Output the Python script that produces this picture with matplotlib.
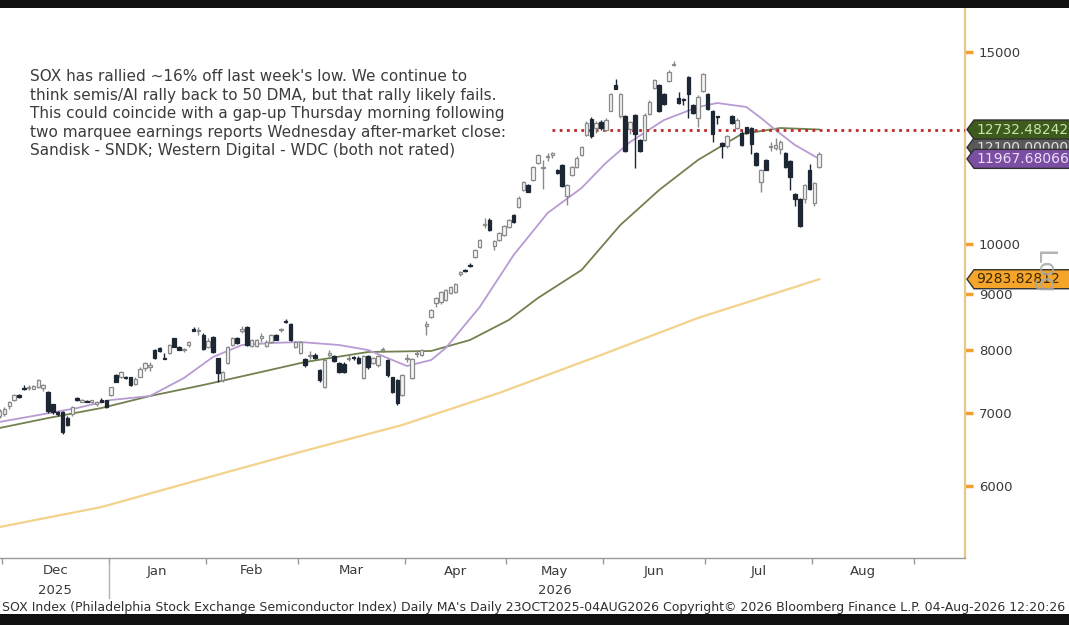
import numpy as np
import matplotlib
matplotlib.use("Agg")
import matplotlib.pyplot as plt
from matplotlib.patches import Polygon, Rectangle
from matplotlib.ticker import FixedLocator, NullLocator, FuncFormatter

W, H = 1069, 625

# trading-day index of each candle (0 = 1 Dec 2025, -1 = 28 Nov 2025)
first_day = -1

opens = [
    6950, 6980, 7110, 7200, 7270, 7370, 7380, 7370, 7390, 7380,
    7320, 7130, 7010, 7010, 6930, 6980, 7230, 7170, 7180, 7170,
    7140, 7200, 7190, 7270, 7580, 7560, 7550, 7550, 7440, 7560,
    7700, 7720, 8000, 8030, 7860, 7950, 8200, 8040, 7990, 8080,
    8350, 8320, 8250, 8050, 8220, 7860, 7500, 7780, 8080, 8200,
    8330, 8390, 8060, 8070, 8200, 8060, 8130, 8250, 8340, 8500,
    8440, 8050, 7950, 7850, 7900, 7920, 7670, 7400, 7920, 7900,
    7780, 7770, 7850, 7860, 7870, 7540, 7900, 7780, 7740, 8000,
    7830, 7550, 7500, 7270, 7850, 7540, 7930, 7910, 8420, 8570,
    8830, 8840, 8890, 9020, 9040, 9380, 9470, 9560, 9730, 9940,
    10400, 10520, 9950, 10080, 10200, 10370, 10630, 10810, 11210, 11330,
    11450, 11860, 11730, 12020, 12060, 11690, 11810, 11060, 11570, 11760,
    12070, 12580, 13020, 12770, 12930, 12720, 13250, 14000, 13100, 13100,
    12750, 13130, 12450, 12450, 13160, 13900, 14000, 13710, 14100, 14580,
    13600, 13550, 14230, 13400, 13050, 13800, 13720, 13250, 13100, 12380,
    12300, 13100, 12780, 12650, 12790, 12770, 12110, 11400, 11940, 12260,
    12250, 12220, 12120, 11910, 11110, 11000, 11000, 11690, 10910, 11760,
]
highs = [
    7060, 7090, 7180, 7290, 7280, 7420, 7420, 7430, 7520, 7450,
    7330, 7140, 7030, 7030, 6950, 7110, 7240, 7210, 7200, 7200,
    7185, 7220, 7200, 7400, 7600, 7650, 7570, 7560, 7560, 7710,
    7800, 7800, 8020, 8050, 7950, 8100, 8210, 8060, 8030, 8150,
    8400, 8400, 8280, 8200, 8240, 7870, 7650, 8070, 8220, 8220,
    8420, 8420, 8180, 8190, 8280, 8160, 8270, 8270, 8380, 8530,
    8470, 8150, 8150, 7860, 7980, 7940, 7690, 7850, 7990, 7920,
    7800, 7790, 7920, 7900, 7890, 7920, 7920, 7880, 7920, 8040,
    7850, 7560, 7520, 7600, 7930, 7870, 8000, 8020, 8500, 8720,
    8950, 9050, 9100, 9160, 9220, 9440, 9490, 9600, 9900, 10100,
    10560, 10560, 10080, 10250, 10400, 10540, 10650, 11060, 11430, 11350,
    11790, 12090, 11950, 12120, 12140, 11710, 11830, 11350, 11790, 12030,
    12300, 12950, 13060, 12960, 13000, 13050, 13760, 14150, 13750, 13130,
    12970, 13160, 12480, 13170, 13550, 14160, 14030, 13740, 14430, 14700,
    13780, 13600, 14260, 13430, 13700, 14340, 13750, 13280, 13110, 12400,
    12590, 13130, 13050, 12680, 12810, 12800, 12140, 11710, 11960, 12400,
    12500, 12450, 12150, 11940, 11140, 11030, 11350, 11850, 11400, 12150,
]
lows = [
    6930, 6960, 7060, 7180, 7230, 7350, 7350, 7360, 7380, 7330,
    7000, 6990, 6950, 6700, 6810, 6960, 7180, 7160, 7160, 7150,
    7110, 7160, 7080, 7250, 7470, 7540, 7520, 7410, 7420, 7550,
    7650, 7650, 7850, 7970, 7840, 7930, 8040, 7990, 7960, 8040,
    8320, 8250, 8000, 8030, 7950, 7470, 7470, 7760, 8060, 8090,
    8280, 8060, 8040, 8050, 8130, 8040, 8110, 8160, 8300, 8460,
    8150, 8030, 7930, 7720, 7850, 7850, 7480, 7380, 7880, 7800,
    7610, 7620, 7820, 7830, 7760, 7520, 7690, 7760, 7720, 7970,
    7560, 7300, 7120, 7250, 7800, 7520, 7880, 7890, 8250, 8550,
    8760, 8820, 8870, 9000, 9020, 9340, 9420, 9520, 9710, 9920,
    10350, 10280, 9880, 10060, 10180, 10350, 10460, 10790, 11190, 11150,
    11430, 11840, 11230, 11920, 11980, 11600, 11280, 10850, 11550, 11740,
    12050, 12550, 12500, 12650, 12720, 12690, 13230, 13860, 13050, 12150,
    12600, 11750, 12150, 12430, 13140, 13880, 13220, 13420, 14080, 14550,
    13440, 13420, 13050, 13150, 12810, 13780, 13270, 12400, 12890, 11990,
    12250, 12880, 12750, 12300, 12620, 12080, 11780, 11160, 11680, 12180,
    12200, 12100, 11730, 11210, 10830, 10360, 10900, 11200, 10830, 11730,
]
closes = [
    7030, 7060, 7160, 7270, 7240, 7360, 7390, 7410, 7500, 7430,
    7030, 7010, 6980, 6730, 6830, 7090, 7190, 7200, 7170, 7190,
    7170, 7170, 7090, 7390, 7480, 7630, 7540, 7430, 7520, 7690,
    7780, 7730, 7860, 7980, 7850, 8080, 8050, 8000, 7995, 8130,
    8330, 8330, 8020, 8150, 7970, 7610, 7630, 8050, 8200, 8110,
    8340, 8080, 8160, 8170, 8230, 8140, 8250, 8170, 8345, 8480,
    8170, 8130, 8130, 7740, 7910, 7870, 7500, 7830, 7940, 7820,
    7630, 7640, 7870, 7855, 7780, 7900, 7710, 7860, 7900, 8005,
    7580, 7320, 7150, 7580, 7860, 7850, 7940, 8000, 8430, 8700,
    8930, 9030, 9075, 9140, 9200, 9420, 9450, 9540, 9870, 10080,
    10420, 10300, 10060, 10230, 10380, 10520, 10480, 11020, 11400, 11170,
    11760, 12060, 11750, 12040, 12120, 11620, 11300, 11330, 11760, 12000,
    12260, 12910, 12560, 12920, 12770, 12990, 13720, 13880, 13720, 12180,
    12930, 12620, 12180, 13140, 13500, 14120, 13250, 13440, 14390, 14600,
    13470, 13540, 13710, 13170, 13650, 14300, 13300, 12600, 13080, 12300,
    12560, 12900, 13000, 12330, 12640, 12360, 11810, 11680, 11700, 12270,
    12320, 12410, 11760, 11520, 11000, 10390, 11320, 11230, 11370, 12100,
]

# moving averages (trading-day index, value)
ma20_day = [-1, 7, 15, 22, 30, 37, 43, 49, 55, 61, 69, 75, 80, 83, 88, 91, 98,
            105, 112, 119, 124, 129, 136, 143, 147, 153, 156, 159, 163, 168]
ma20_val = [6870, 6971, 7075, 7196, 7256, 7537, 7879, 8081, 8115, 8132, 8081,
            7996, 7829, 7731, 7829, 8030, 8755, 9771, 10676, 11254, 11864,
            12401, 12990, 13351, 13465, 13351, 13045, 12719, 12323, 11967.68066]
ma50_day = [-1, 9, 20, 30, 41, 52, 62, 75, 88, 96, 104, 110, 119, 127, 135,
            143, 152, 160, 168]
ma50_val = [6783, 6927, 7075, 7256, 7427, 7617, 7796, 7963, 7980, 8167, 8519,
            8923, 9466, 10409, 11207, 11939, 12612, 12773, 12732.48242]
ma200_day = [-1, 20, 40, 61, 82, 102, 123, 143, 168]
ma200_val = [5504, 5741, 6078, 6448, 6826, 7303, 7912, 8555, 9283.82812]

hline_level = 12732.48242
hline_from = 113

month_names = ["Dec", "Jan", "Feb", "Mar", "Apr", "May", "Jun", "Jul", "Aug"]
month_first_day = [0, 22, 42, 61, 83, 104, 124, 145, 167, 188]
year_labels = {"2025": "Dec", "2026": "May"}

y_ticks = [6000, 7000, 8000, 9000, 10000, 15000]

note = ("SOX has rallied ~16% off last week's low. We continue to\n"
        "think semis/AI rally back to 50 DMA, but that rally likely fails.\n"
        "This could coincide with a gap-up Thursday morning following\n"
        "two marquee earnings reports Wednesday after-market close:\n"
        "Sandisk - SNDK; Western Digital - WDC (both not rated)")
footer = ("SOX Index (Philadelphia Stock Exchange Semiconductor Index) Daily MA's "
          "Daily 23OCT2025-04AUG2026 Copyright\u00a9 2026 Bloomberg Finance L.P. "
          "04-Aug-2026 12:20:26")


def add_tag(fig, ax, value, text, fc, tc, z, dy=0.0):
    # arrow shaped price tag sitting on the right axis (dy: pixel nudge)
    _, yp = ax.transData.transform((0, value))
    yp += dy
    xr = ax.transAxes.transform((1, 0))[0]
    h = 9.5
    pts = [(xr + 2, yp), (xr + 9, yp + h), (W + 10, yp + h),
           (W + 10, yp - h), (xr + 9, yp - h)]
    pts = [(px / W, py / H) for px, py in pts]
    fig.add_artist(Polygon(pts, closed=True, transform=fig.transFigure,
                           facecolor=fc, edgecolor="#303030", lw=1.0,
                           zorder=z, clip_on=False))
    fig.text((xr + 11) / W, yp / H, text, color=tc, fontsize=10,
             va="center", ha="left", zorder=z + 0.5)


fig = plt.figure(figsize=(W / 100, H / 100), dpi=100)
fig.patch.set_facecolor("white")
ax = fig.add_axes([0, 1 - 558 / H, 965 / W, 550 / H])

o = np.array(opens, dtype=float)
hi = np.array(highs, dtype=float)
lo = np.array(lows, dtype=float)
c = np.array(closes, dtype=float)
x = np.arange(len(o)) + first_day
up = c >= o

# moving averages
ax.plot(ma200_day, ma200_val, color="#F3D28C", lw=1.6, zorder=2)
ax.plot(ma50_day, ma50_val, color="#72814F", lw=1.3, zorder=2)
ax.plot(ma20_day, ma20_val, color="#B79BD2", lw=1.3, zorder=2)

ax.plot([hline_from, 200], [hline_level, hline_level], color="#C0282A",
        lw=2.0, linestyle=(0, (1, 1.6)), zorder=3)

# candles
body_lo = np.minimum(o, c)
body_hi = np.maximum(np.maximum(o, c), body_lo * 1.0025)
ax.vlines(x[up], lo[up], hi[up], color="#8a8a8a", lw=1.0, zorder=4)
ax.vlines(x[~up], lo[~up], hi[~up], color="#1c2733", lw=1.0, zorder=4)
ax.bar(x[up], body_hi[up] - body_lo[up], bottom=body_lo[up], width=0.72,
       facecolor="#f5f5f5", edgecolor="#8a8a8a", lw=0.9, zorder=5)
ax.bar(x[~up], body_hi[~up] - body_lo[~up], bottom=body_lo[~up], width=0.72,
       facecolor="#1c2733", edgecolor="#1c2733", lw=0.9, zorder=5)

ax.set_yscale("log")
ax.set_ylim(5156, 16453)
ax.set_xlim(-0.907, 198.06)

ax.yaxis.tick_right()
ax.yaxis.set_major_locator(FixedLocator(y_ticks))
ax.yaxis.set_minor_locator(NullLocator())
ax.yaxis.set_major_formatter(FuncFormatter(lambda v, p: f"{v:.0f}"))
ax.tick_params(axis="y", which="major", direction="out", length=6, width=2.5,
               color="#F0A030", labelcolor="#3a3a3a", labelsize=9.5, pad=4)

bounds = [d - 0.5 for d in month_first_day]
ax.xaxis.set_major_locator(FixedLocator(bounds))
ax.xaxis.set_minor_locator(NullLocator())
ax.set_xticklabels([])
ax.tick_params(axis="x", direction="out", length=4, width=1, color="#9a9a9a")

for side in ["left", "top"]:
    ax.spines[side].set_visible(False)
ax.spines["right"].set_color("#E6C98A")
ax.spines["right"].set_linewidth(1.6)
ax.spines["bottom"].set_color("#9a9a9a")
ax.spines["bottom"].set_linewidth(1.0)

xt = ax.get_xaxis_transform()
mid = {}
for i, name in enumerate(month_names):
    mid[name] = (bounds[i] + bounds[i + 1]) / 2
    ax.text(mid[name], -13 / 550, name, transform=xt, ha="center",
            va="center", fontsize=9.5, color="#3a3a3a")
for year, name in year_labels.items():
    ax.text(mid[name], -32 / 550, year, transform=xt, ha="center",
            va="center", fontsize=9.5, color="#3a3a3a")
# year separator
ax.plot([bounds[1], bounds[1]], [0, -40 / 550], transform=xt,
        color="#b0b0b0", lw=1.0, clip_on=False)

fig.text(30 / W, 1 - 69 / H, note, ha="left", va="top", fontsize=11,
         color="#3c3c3c", linespacing=1.3)

# tags on the right axis
add_tag(fig, ax, ma50_val[-1], f"{ma50_val[-1]:.5f}", "#3F5A1F", "#C8E6A0", 10)
add_tag(fig, ax, ma50_val[-1], f"{closes[-1]:.5f}", "#5a5a5a", "#e0e0e0", 8,
        dy=-18)
add_tag(fig, ax, ma20_val[-1], f"{ma20_val[-1]:.5f}", "#7A4FA3", "#EBDDF7", 12)
add_tag(fig, ax, ma200_val[-1], f"{ma200_val[-1]:.5f}", "#F4A52A", "#3a2600", 10)

fig.text(1043 / W, 1 - 272 / H, "Log", rotation=270, fontsize=18,
         color="#a8a8a8", ha="center", va="center", alpha=0.85, zorder=20)

fig.text(2 / W, 1 - 607 / H, footer, ha="left", va="center", fontsize=9.0,
         color="#303030")

# dark bands at top and bottom of the screenshot
fig.add_artist(Rectangle((0, 1 - 8 / H), 1, 8 / H, transform=fig.transFigure,
                         facecolor="#111111", edgecolor="none", zorder=30))
fig.add_artist(Rectangle((0, 0), 1, 11 / H, transform=fig.transFigure,
                         facecolor="#111111", edgecolor="none", zorder=30))

fig.savefig("out.png", dpi=100)
